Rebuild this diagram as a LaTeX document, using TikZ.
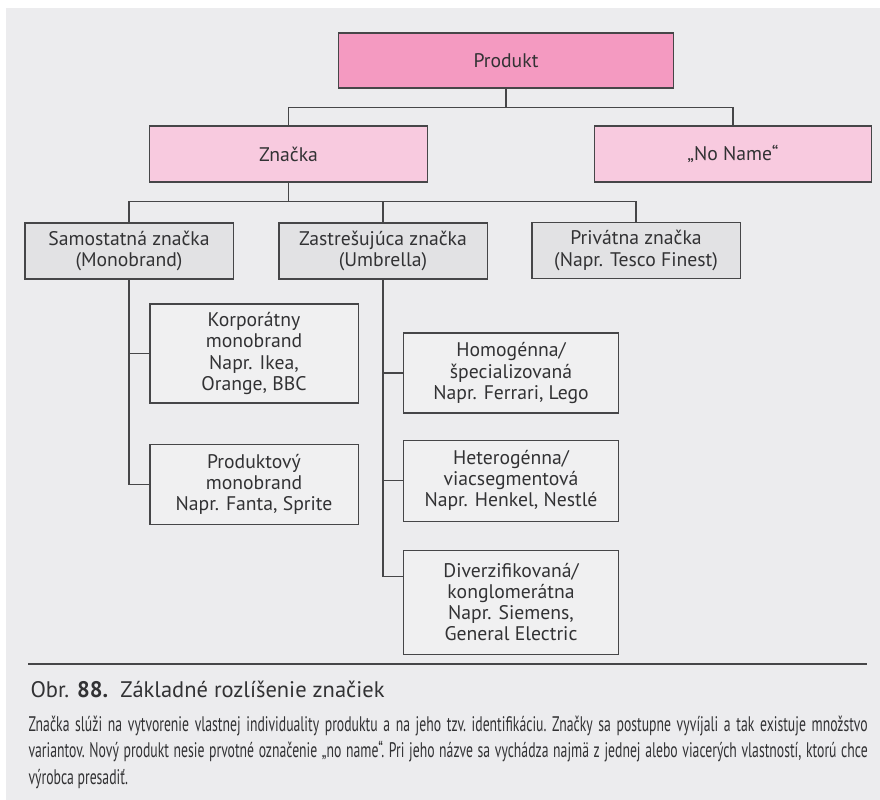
\documentclass[tikz,border=0pt]{standalone}
\usepackage{fontspec}
\setmainfont{PT Sans}
\newfontfamily\notefont[FakeStretch=0.65]{PT Sans}
\usetikzlibrary{positioning}

\definecolor{panel}{RGB}{236,236,238}
\definecolor{rosedark}{RGB}{244,154,193}
\definecolor{roselight}{RGB}{248,202,223}
\definecolor{greybox}{RGB}{226,226,228}
\definecolor{leafbox}{RGB}{240,240,241}
\definecolor{edge}{RGB}{70,70,72}
\definecolor{ink}{RGB}{50,50,52}

\begin{document}
\begin{tikzpicture}[x=0.025cm, y=-0.025cm, line width=0.75pt, draw=edge,
        box/.style = {draw=edge, align=center, inner sep=2pt, text=ink, font=\fontsize{14}{15}\selectfont},
        top/.style = {box, fill=rosedark, minimum width=8.35cm, minimum height=1.375cm},
        brand/.style = {box, fill=roselight, minimum width=6.925cm, minimum height=1.4cm},
        kind/.style = {box, fill=greybox, minimum width=5.2cm, minimum height=1.4cm},
        leaf/.style = {box, fill=leafbox, minimum width=5.2cm},
        sub/.style = {box, fill=leafbox, minimum width=5.375cm}]
    \useasboundingbox (0,0) rectangle (880,800);
    \fill[panel] (6,8) rectangle (880,800);

    % tree
    \node[top] (prod) at (506,60.5) {Produkt};
    \node[brand] (brand) at (288.5,154) {Značka};
    \node[brand] (noname) at (733,154) {„No Name“};
    \node[kind] (mono) at (129,251) {Samostatná značka\\(Monobrand)};
    \node[kind] (umb) at (383,251) {Zastrešujúca značka\\(Umbrella)};
    \node[kind] (priv) at (636,250.5) {Privátna značka\\(Napr. Tesco Finest)};
    \node[leaf, minimum height=2.475cm] (corp) at (254,353.5) {Korporátny\\monobrand\\Napr. Ikea,\\Orange, BBC};
    \node[leaf, minimum height=2cm, below=1cm of corp] (prodmono) {Produktový\\monobrand\\Napr. Fanta, Sprite};
    \node[sub, minimum height=2cm] (homo) at (511,373) {Homogénna/\\špecializovaná\\Napr. Ferrari, Lego};
    \node[sub, minimum height=2.025cm, below=0.65cm of homo] (hetero) {Heterogénna/\\viacsegmentová\\Napr. Henkel, Nestlé};
    \node[sub, minimum height=2.6cm, below=0.7cm of hetero] (div) {Diverzifikovaná/\\konglomerátna\\Napr. Siemens,\\General Electric};

    \draw (prod.south) -- ++(0,19) coordinate (bus1);
    \draw (brand.north) |- (bus1) -| (noname.north);
    \draw (brand.south) -- ++(0,19) coordinate (bus2);
    \draw (mono.north) |- (bus2) -| (priv.north);
    \draw (umb.north) -- (umb.north |- bus2);
    \draw (mono.south) |- (corp.west);
    \draw (mono.south) |- (prodmono.west);
    \draw (umb.south) |- (homo.west);
    \draw (umb.south) |- (hetero.west);
    \draw (umb.south) |- ([yshift=-0.675cm]div.north west);

    % caption
    \draw (28,664) -- (867,664);
    \node[anchor=west, inner sep=0, text=ink, font=\fontsize{16}{18}\selectfont] (caption) at (30,689)
        {Obr. \textbf{88.}\ \ Základné rozlíšenie značiek};
    \node[anchor=north west, inner sep=0, text width=20.975cm, align=justify, text=ink,
        font=\notefont\fontsize{15}{18.5}\selectfont\frenchspacing] (note) at (28,716)
        {Značka slúži na vytvorenie vlastnej individuality produktu a na jeho tzv. identifikáciu. Značky sa postupne vyvíjali a tak existuje množstvo\linebreak
         variantov. Nový produkt nesie prvotné označenie „no name“. Pri jeho názve sa vychádza najmä z jednej alebo viacerých vlastností, ktorú chce\linebreak
         výrobca presadiť.};
\end{tikzpicture}
\end{document}
